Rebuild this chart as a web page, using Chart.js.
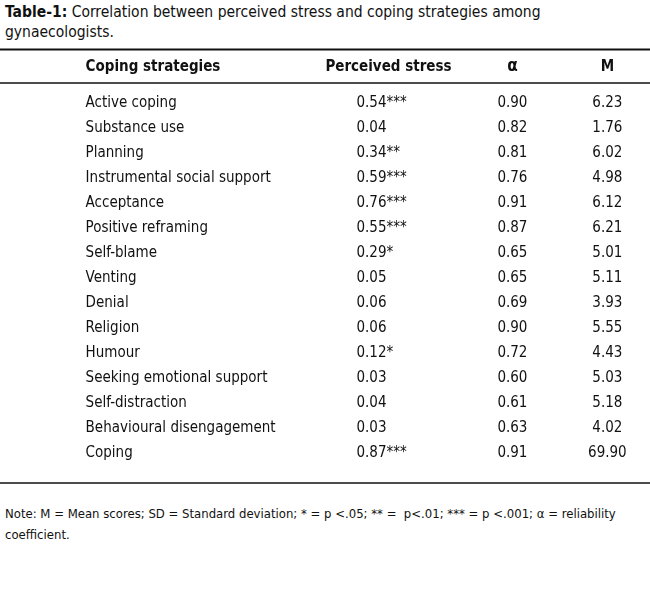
<!DOCTYPE html>
<html>
<head>
<meta charset="utf-8">
<script src="https://cdn.jsdelivr.net/npm/chart.js@4"></script>
<style>
  body { margin: 0; background: #fff; font-family: "DejaVu Sans Condensed", "DejaVu Sans", sans-serif; color: #111; }
  #title { position: absolute; left: 5px; top: 2px; width: 640px; font-size: 15.5px; line-height: 20px; }
  #wrap { position: absolute; left: 0; top: 48px; width: 650px; height: 437px; }
  #note { position: absolute; left: 5px; top: 503px; width: 625px; font-size: 13px; line-height: 21px; }
</style>
</head>
<body>
<div id="title"><b>Table-1:</b> Correlation between perceived stress and coping strategies among gynaecologists.</div>
<div id="wrap"><canvas id="tbl"></canvas></div>
<div id="note">Note: M = Mean scores; SD = Standard deviation; * = p &lt;.05; ** = &nbsp;p&lt;.01; *** = p &lt;.001; α = reliability coefficient.</div>
<script>
const headers = ["Coping strategies", "Perceived stress", "α", "M", "SD"];
const strategies = ["Active coping", "Substance use", "Planning", "Instrumental social support", "Acceptance",
  "Positive reframing", "Self-blame", "Venting", "Denial", "Religion", "Humour",
  "Seeking emotional support", "Self-distraction", "Behavioural disengagement", "Coping"];
const stress = ["0.54***", "0.04", "0.34**", "0.59***", "0.76***", "0.55***", "0.29*", "0.05", "0.06", "0.06",
  "0.12*", "0.03", "0.04", "0.03", "0.87***"];
const alpha = ["0.90", "0.82", "0.81", "0.76", "0.91", "0.87", "0.65", "0.65", "0.69", "0.90", "0.72", "0.60", "0.61", "0.63", "0.91"];
const means = ["6.23", "1.76", "6.02", "4.98", "6.12", "6.21", "5.01", "5.11", "3.93", "5.55", "4.43", "5.03", "5.18", "4.02", "69.90"];
const sds = ["1.90", ".36", "2.21", "2.43", "1.65", "2.01", "2.50", "2.23", "1.78", "2.31", "2.13", "2.74", "2.63", "1.87", "8.98"];

const font = '"DejaVu Sans Condensed", "DejaVu Sans", sans-serif';

const tablePlugin = {
  id: "tablePlugin",
  afterDraw(chart) {
    const ctx = chart.ctx;
    const x = chart.scales.x, y = chart.scales.y;
    const W = chart.width;
    ctx.save();
    ctx.strokeStyle = "#111";
    ctx.lineWidth = 2;
    ctx.beginPath(); ctx.moveTo(0, 1.5); ctx.lineTo(W, 1.5); ctx.stroke();
    ctx.lineWidth = 1.5;
    ctx.beginPath(); ctx.moveTo(0, 35); ctx.lineTo(W, 35); ctx.stroke();
    ctx.beginPath(); ctx.moveTo(0, 435); ctx.lineTo(W, 435); ctx.stroke();

    ctx.fillStyle = "#111";
    ctx.textBaseline = "middle";
    ctx.font = "bold 15px " + font;
    ctx.textAlign = "left";
    ctx.fillText(headers[0], x.getPixelForValue(5), 19);
    ctx.textAlign = "center";
    ctx.fillText(headers[1], x.getPixelForValue(308), 19);
    ctx.font = "bold 17px " + font;
    ctx.fillText(headers[2], x.getPixelForValue(432), 19);
    ctx.font = "bold 15px " + font;
    ctx.fillText(headers[3], x.getPixelForValue(527), 19);
    ctx.fillText(headers[4], x.getPixelForValue(613), 19);

    ctx.font = "15px " + font;
    strategies.forEach((s, i) => {
      const py = y.getPixelForValue(i);
      ctx.textAlign = "left";
      ctx.fillText(s, x.getPixelForValue(5), py);
      ctx.fillText(stress[i], x.getPixelForValue(276), py);
      ctx.textAlign = "center";
      ctx.fillText(alpha[i], x.getPixelForValue(432), py);
      ctx.fillText(means[i], x.getPixelForValue(527), py);
      ctx.fillText(sds[i], x.getPixelForValue(613), py);
    });
    ctx.restore();
  }
};

new Chart(document.getElementById("tbl"), {
  type: "bar",
  data: { labels: strategies, datasets: [{ data: [], label: "table" }] },
  options: {
    responsive: true,
    maintainAspectRatio: false,
    animation: false,
    layout: { padding: { top: 43, bottom: 19, left: 0, right: 0 } },
    plugins: { legend: { display: false }, tooltip: { enabled: false } },
    scales: {
      x: { type: "linear", min: -40, max: 529, display: false },
      y: { type: "category", display: false, offset: true }
    }
  },
  plugins: [tablePlugin]
});
</script>
</body>
</html>
